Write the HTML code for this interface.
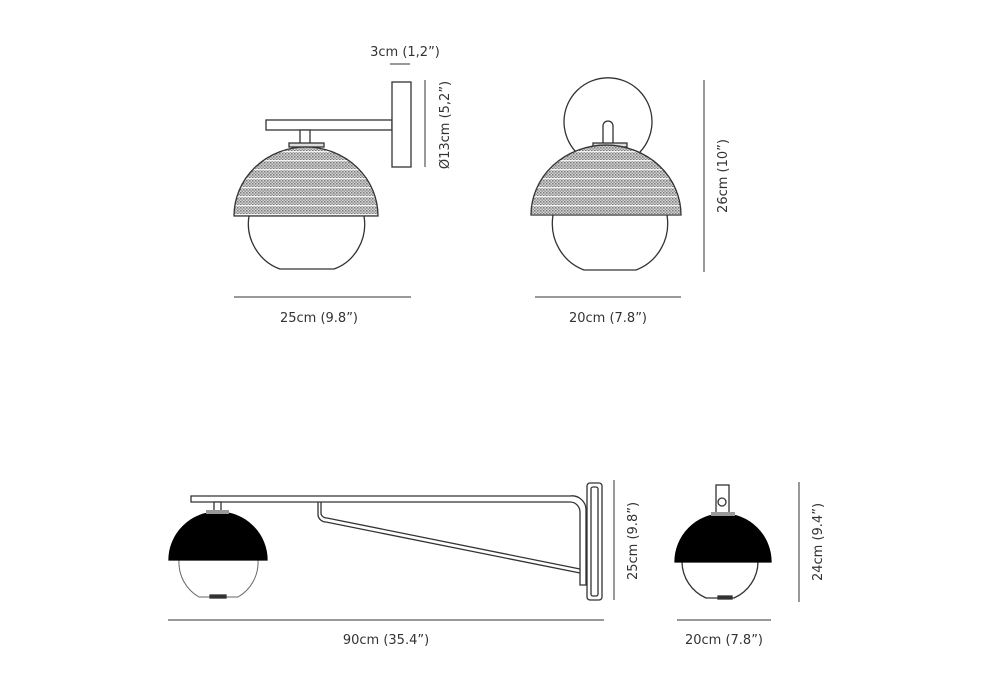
<!DOCTYPE html>
<html><head><meta charset="utf-8"><style>
html,body{margin:0;padding:0;background:#fff;}
svg{display:block}
text{font-family:"DejaVu Sans","Liberation Sans",sans-serif;font-size:13px;fill:#333;}
</style></head><body>
<svg width="1000" height="700" viewBox="0 0 1000 700" xmlns="http://www.w3.org/2000/svg">
<defs>
<pattern id="dots" width="3" height="3" patternUnits="userSpaceOnUse">
<rect width="3" height="3" fill="#d4d4d4"/>
<rect width="1.5" height="1.5" fill="#7a7a7a"/>
<rect x="1.5" y="1.5" width="1.5" height="1.5" fill="#999"/>
</pattern>
<pattern id="hatch" width="150" height="9" patternUnits="userSpaceOnUse">
<rect width="150" height="9" fill="url(#dots)"/>
<rect y="7" width="150" height="1.2" fill="#f2f2f2"/>
</pattern>
</defs>
<g fill="none" stroke="#333" stroke-width="1.3">
<!-- TOP LEFT -->
<rect x="266" y="120" width="126" height="10" fill="#fff"/>
<path d="M300,143 V130 H310 V143" fill="#fff"/>
<rect x="392" y="82" width="19" height="85" fill="#fff"/>
<rect x="289" y="143" width="35" height="4" fill="#ddd"/>
<path d="M249,216 C245,240 260,262 280,269 L334,269 C354,262 368,240 364,216"/>
<path d="M234,216 A72,69 0 0 1 378,216 Z" fill="url(#hatch)"/>
<!-- TOP MIDDLE -->
<path d="M576,152 A44,44 0 1 1 640,152"/>
<path d="M603,145 V126 A5,5 0 0 1 613,126 V145" fill="#fff"/>
<rect x="593" y="143" width="34" height="4" fill="#ddd"/>
<path d="M553,215 C549,240 563,262 584,270 L636,270 C657,262 671,240 667,215"/>
<path d="M531,215 A75,70 0 0 1 681,215 Z" fill="url(#hatch)"/>
<!-- BOTTOM LEFT -->
<path d="M191,496 H570 A14,14 0 0 1 586,510 V585 H580 V512 A10,10 0 0 0 570,502 H191 Z" fill="#fff"/>
<rect x="587" y="483" width="15" height="117" rx="3" fill="#fff"/>
<rect x="591" y="487" width="7" height="109" rx="2"/>
<path d="M318,502 V515 A8,8 0 0 0 326,522 L580,573"/>
<path d="M321,502 V514 A6,6 0 0 0 327,518 L580,569"/>
<path d="M214,512 V502 H221 V512" fill="#fff"/>
<path d="M179,560 A40,40 0 0 0 199,597 L238,597 A40,40 0 0 0 258,560" stroke="#666" stroke-width="1"/>
<rect x="210" y="595" width="16" height="3" fill="#333"/>
<path d="M169,560 A49,48 0 0 1 267,560 Z" fill="#000" stroke="#000"/>
<rect x="206" y="510" width="23" height="4" fill="#999" stroke="none"/>
<!-- BOTTOM RIGHT -->
<rect x="716" y="485" width="13" height="28" fill="#fff"/>
<circle cx="722" cy="502" r="4"/>
<path d="M682,562 A40,40 0 0 0 706,598 L734,598 A40,40 0 0 0 758,562"/>
<rect x="718" y="596" width="14" height="3" fill="#333"/>
<path d="M675,562 A48,48 0 0 1 771,562 Z" fill="#000" stroke="#000"/>
<rect x="711" y="512" width="24" height="4" fill="#999" stroke="none"/>
</g>
<g stroke="#333" stroke-width="1">
<line x1="390" y1="64" x2="410" y2="64"/>
<line x1="425" y1="80" x2="425" y2="167"/>
<line x1="234" y1="297" x2="411" y2="297"/>
<line x1="704" y1="80" x2="704" y2="272"/>
<line x1="535" y1="297" x2="681" y2="297"/>
<line x1="614" y1="480" x2="614" y2="600"/>
<line x1="168" y1="620" x2="604" y2="620"/>
<line x1="799" y1="482" x2="799" y2="602"/>
<line x1="677" y1="620" x2="771" y2="620"/>
</g>
<text x="405" y="56" text-anchor="middle">3cm (1,2”)</text>
<text transform="translate(449,125) rotate(-90)" text-anchor="middle">Ø13cm (5,2”)</text>
<text x="319" y="322" text-anchor="middle">25cm (9.8”)</text>
<text transform="translate(727,176) rotate(-90)" text-anchor="middle">26cm (10”)</text>
<text x="608" y="322" text-anchor="middle">20cm (7.8”)</text>
<text transform="translate(637,541) rotate(-90)" text-anchor="middle">25cm (9.8”)</text>
<text x="386" y="644" text-anchor="middle">90cm (35.4”)</text>
<text transform="translate(822,542) rotate(-90)" text-anchor="middle">24cm (9.4”)</text>
<text x="724" y="644" text-anchor="middle">20cm (7.8”)</text>
</svg>
</body></html>
